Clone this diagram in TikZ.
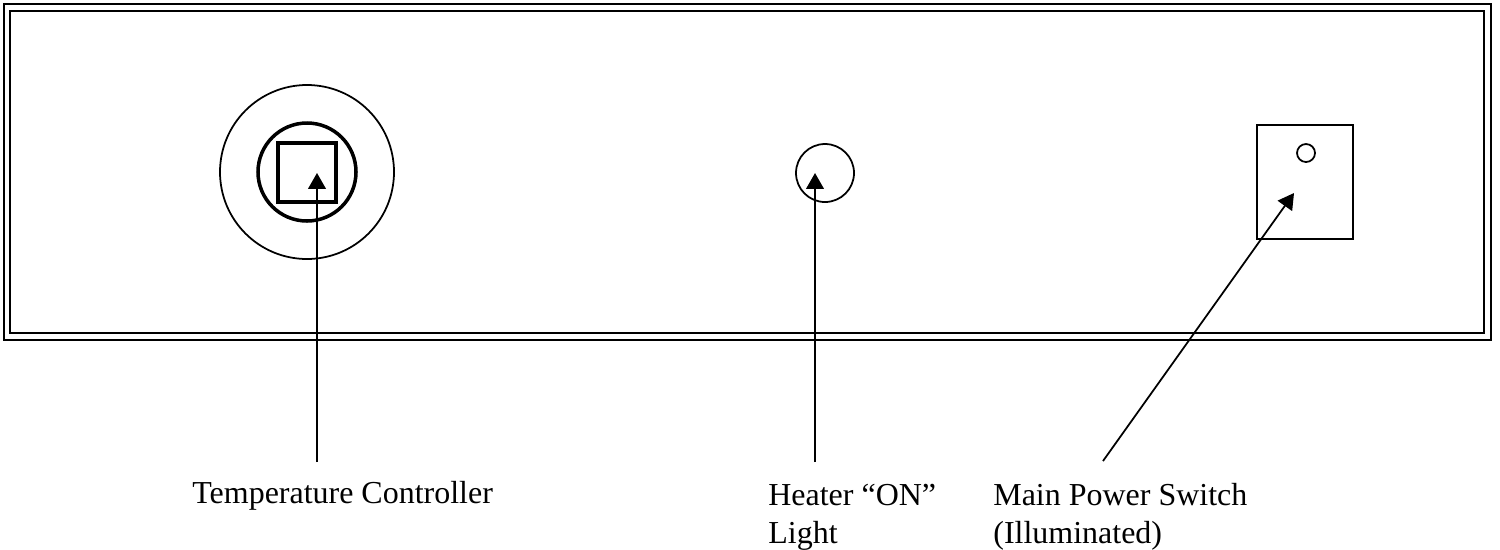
\documentclass[tikz,border=0pt]{standalone}
\usepackage{fontspec}
\setmainfont{Liberation Serif}
\usetikzlibrary{arrows.meta}
\begin{document}
\begin{tikzpicture}[x=0.02cm,y=-0.02cm,
  frame/.style={line width=1.2pt},
  thin/.style={line width=1pt},
  thick/.style={line width=2pt},
  pointer/.style={line width=1pt,-{Triangle[width=10pt,length=9pt]}},
  label/.style={inner sep=0pt,anchor=base west,align=left,font=\fontsize{18.2pt}{21.5pt}\selectfont}]
\useasboundingbox (0,0) rectangle (1500,549);
% panel frame
\draw[frame] (4,4) rectangle (1491,340);
\draw[frame] (10,11) rectangle (1484,333);
% temperature controller
\coordinate (c1) at (307,172);
\draw[thin] (c1) circle[radius=87];
\draw[thick] (c1) circle[radius=49];
\draw[thick] (278,143) rectangle (336,202);
% heater light
\coordinate (c2) at (825,173);
\draw[thin] (c2) circle[radius=29];
% power switch
\draw[thin] (1257,125) rectangle (1353,239);
\coordinate (c3) at (1306,153);
\draw[thin] (c3) circle[radius=9];
% labels (base = last line's baseline)
\node[label] (lt) at (192,503) {Temperature Controller};
\node[label] (lh) at (768,543) {Heater ``ON''\\Light};
\node[label] (lm) at (993,543) {Main Power Switch\\(Illuminated)};
% pointers
\coordinate (t1) at (317,462); \coordinate (h1) at (317,173);
\coordinate (t2) at (815,462); \coordinate (h2) at (815,173);
\coordinate (t3) at (1103,461); \coordinate (h3) at (1294,193);
\draw[pointer] (t1) -- (h1);
\draw[pointer] (t2) -- (h2);
\draw[pointer] (t3) -- (h3);
\end{tikzpicture}
\end{document}
